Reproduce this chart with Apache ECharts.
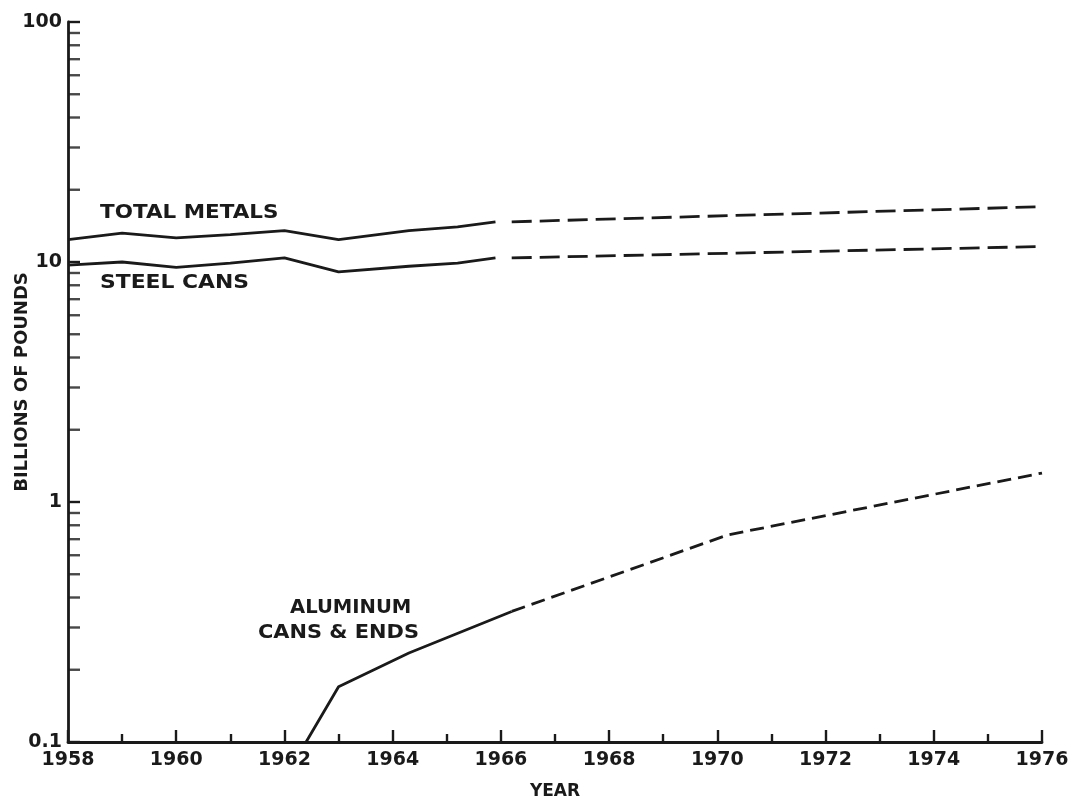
<!DOCTYPE html>
<html>
<head>
<meta charset="utf-8">
<script src="https://cdn.jsdelivr.net/npm/echarts@6/dist/echarts.min.js"></script>
<style>
html,body{margin:0;padding:0;background:#fff;}
#chart{width:1072px;height:804px;}
</style>
</head>
<body>
<div id="chart"></div>
<script>
// ---- data ----
var totalYears    = [1958, 1959, 1960, 1961, 1962, 1963, 1964.3, 1965.2, 1965.9];
var totalValues   = [12.4, 13.2, 12.6, 13.0, 13.5, 12.4, 13.5, 14.0, 14.7];
var totalProjYears  = [1966.2, 1976];
var totalProjValues = [14.7, 17.0];

var steelYears    = [1958, 1959, 1960, 1961, 1962, 1963, 1964.3, 1965.2, 1965.9];
var steelValues   = [9.7, 10.0, 9.5, 9.9, 10.4, 9.1, 9.6, 9.9, 10.4];
var steelProjYears  = [1966.2, 1976];
var steelProjValues = [10.4, 11.6];

var aluYears    = [1962.4, 1963.0, 1964.3, 1966.2];
var aluValues   = [0.10, 0.17, 0.235, 0.35];
var aluProjYears  = [1966.2, 1970.2, 1976];
var aluProjValues = [0.35, 0.73, 1.32];

var yMinorTicks = [0.2,0.3,0.4,0.5,0.6,0.7,0.8,0.9, 2,3,4,5,6,7,8,9, 20,30,40,50,60,70,80,90];

function pairs(xs, ys){ return xs.map(function(x,i){ return [x, ys[i]]; }); }

var INK = '#1a1a1a';
var FONT = 'DejaVu Sans';

var chart = echarts.init(document.getElementById('chart'));
function solid(data){
  return {type:'line', data:data, symbol:'none', smooth:false, silent:true,
          lineStyle:{color:INK, width:2.8, type:'solid'}, z:3};
}
function dashed(data, pattern){
  return {type:'line', data:data, symbol:'none', smooth:false, silent:true,
          lineStyle:{color:INK, width:2.8, type:pattern}, z:3};
}
var option = {
  backgroundColor:'#fff',
  animation:false,
  grid:{left:68, right:30, top:22, bottom:62, containLabel:false, outerBoundsMode:'none'},
  xAxis:{
    type:'value', min:1958, max:1976, interval:2,
    name:'YEAR', nameLocation:'middle', nameGap:50, nameMoveOverlap:false,
    nameTextStyle:{fontFamily:FONT, fontSize:17, fontWeight:'bold', color:INK, verticalAlign:'middle'},
    axisLine:{show:true, onZero:false, lineStyle:{color:INK, width:2.8}},
    axisTick:{show:true, inside:true, length:12, lineStyle:{color:INK, width:2.4}},
    minorTick:{show:true, splitNumber:2, length:8, lineStyle:{color:INK, width:2.4}},
    splitLine:{show:false},
    axisLabel:{fontFamily:FONT, fontSize:19, fontWeight:'bold', color:INK, margin:9,
               formatter:function(v){return String(v);}}
  },
  yAxis:{
    type:'log', logBase:10, min:0.1, max:100,
    name:'BILLIONS OF POUNDS', nameLocation:'middle', nameGap:46, nameRotate:90, nameMoveOverlap:false,
    nameTextStyle:{fontFamily:FONT, fontSize:18, fontWeight:'bold', color:INK, verticalAlign:'middle'},
    axisLine:{show:true, lineStyle:{color:INK, width:2.8}},
    axisTick:{show:true, inside:true, length:12, lineStyle:{color:INK, width:2.4}},
    splitLine:{show:false},
    axisLabel:{fontFamily:FONT, fontSize:19, fontWeight:'bold', color:INK, margin:6,
               formatter:function(v){return v<1 ? '0.1' : String(Math.round(v));}}
  },
  graphic:[
    {type:'text', left:100, top:204, scaleX:1.13, style:{text:'TOTAL METALS', font:'bold 19px "DejaVu Sans"', fill:INK}},
    {type:'text', left:100, top:274, scaleX:1.15, style:{text:'STEEL CANS', font:'bold 19px "DejaVu Sans"', fill:INK}},
    {type:'text', left:290, top:599, scaleX:1.03, style:{text:'ALUMINUM', font:'bold 19px "DejaVu Sans"', fill:INK}},
    {type:'text', left:258, top:624, scaleX:1.1, style:{text:'CANS & ENDS', font:'bold 19px "DejaVu Sans"', fill:INK}}
  ],
  series:[
    solid(pairs(totalYears, totalValues)),
    dashed(pairs(totalProjYears, totalProjValues), [20, 8]),
    solid(pairs(steelYears, steelValues)),
    dashed(pairs(steelProjYears, steelProjValues), [20, 8]),
    solid(pairs(aluYears, aluValues)),
    dashed(pairs(aluProjYears, aluProjValues), [14, 7]),
    {type:'scatter', silent:true, symbol:'rect', symbolSize:[12, 2.4], symbolOffset:[6, 0],
     itemStyle:{color:INK}, z:4,
     data: yMinorTicks.map(function(v){ return [1958, v]; })}
  ]
};
chart.setOption(option);
</script>
</body>
</html>
